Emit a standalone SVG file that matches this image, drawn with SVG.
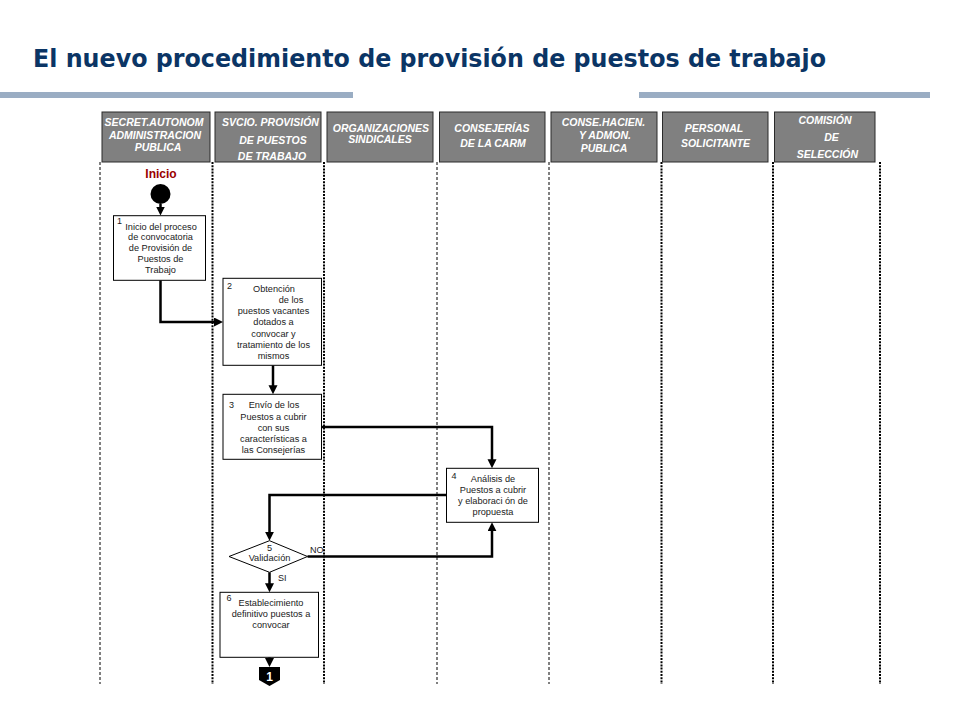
<svg xmlns="http://www.w3.org/2000/svg" width="960" height="720" viewBox="0 0 960 720">
<style>
.title{font-family:"DejaVu Sans","Liberation Sans",sans-serif;font-weight:bold;font-size:24px;fill:#0b3565}
.hdr rect{fill:#808080;stroke:#2a2a2a;stroke-width:1}
.hdr text{font-family:"Liberation Sans",Arial,sans-serif;font-weight:bold;font-style:italic;font-size:10.5px;fill:#ffffff;text-anchor:middle}
.lane-thin{stroke:#000;stroke-width:1;stroke-dasharray:3,2;fill:none}
.lane-thick{stroke:#000;stroke-width:2;stroke-dasharray:2,1.2;fill:none}
.box{fill:#fff;stroke:#000;stroke-width:1}
.t{font-family:"Liberation Sans",Arial,sans-serif;font-size:9.2px;fill:#1a1a1a;text-anchor:middle}
.n{font-family:"Liberation Sans",Arial,sans-serif;font-size:9px;fill:#1a1a1a}
.c{stroke:#000;stroke-width:2.5;fill:none;marker-end:url(#ah)}
</style>
<defs>
<marker id="ah" markerUnits="userSpaceOnUse" markerWidth="10" markerHeight="10" refX="5" refY="4.5" orient="auto">
<path d="M0,0 L9,4.5 L0,9 z" fill="#000"/>
</marker>
</defs>
<rect width="960" height="720" fill="#fff"/>
<text class="title" x="33" y="67" textLength="793" lengthAdjust="spacingAndGlyphs">El nuevo procedimiento de provisión de puestos de trabajo</text>
<rect x="0" y="92" width="353" height="6" fill="#9aadc3"/>
<rect x="639" y="92" width="291" height="6" fill="#9aadc3"/>

<g id="lanes">
<line class="lane-thin" x1="100" y1="162" x2="100" y2="684"/>
<line class="lane-thick" x1="212.5" y1="162" x2="212.5" y2="684"/>
<line class="lane-thick" x1="324" y1="162" x2="324" y2="684"/>
<line class="lane-thin" x1="437" y1="162" x2="437" y2="684"/>
<line class="lane-thin" x1="549" y1="162" x2="549" y2="684"/>
<line class="lane-thick" x1="661.5" y1="162" x2="661.5" y2="684"/>
<line class="lane-thick" x1="773" y1="162" x2="773" y2="684"/>
<line class="lane-thick" x1="880" y1="162" x2="880" y2="684"/>
</g>

<g id="headers" class="hdr">
<g id="h1"><rect x="102" y="112" width="108" height="50"/>
<text x="154" y="126">SECRET.AUTONOM</text><text x="155" y="138.5">ADMINISTRACION</text><text x="158" y="151">PUBLICA</text></g>
<g id="h2"><rect x="215" y="112" width="106" height="50"/>
<text x="270.5" y="126">SVCIO. PROVISIÓN</text><text x="273" y="143.5">DE PUESTOS</text><text x="272" y="160">DE TRABAJO</text></g>
<g id="h3"><rect x="327" y="112" width="106" height="50"/>
<text x="381" y="132">ORGANIZACIONES</text><text x="380" y="143">SINDICALES</text></g>
<g id="h4"><rect x="439.5" y="112" width="105.5" height="50"/>
<text x="492" y="131.5">CONSEJERÍAS</text><text x="493" y="147">DE LA CARM</text></g>
<g id="h5"><rect x="551" y="112" width="106" height="50"/>
<text x="603.5" y="125.5">CONSE.HACIEN.</text><text x="605" y="139">Y ADMON.</text><text x="604" y="151.5">PUBLICA</text></g>
<g id="h6"><rect x="662.5" y="112" width="105.5" height="50"/>
<text x="714" y="131.5">PERSONAL</text><text x="715.5" y="147">SOLICITANTE</text></g>
<g id="h7"><rect x="774.5" y="112" width="100.5" height="50"/>
<text x="825" y="124">COMISIÓN</text><text x="831.5" y="141">DE</text><text x="827.5" y="157.5">SELECCIÓN</text></g>
</g>

<g id="connectors">
<line class="c" x1="160.5" y1="204" x2="160.5" y2="211.5"/>
<polyline class="c" points="160.5,280.3 160.5,322 219,322"/>
<line class="c" x1="273" y1="365.3" x2="273" y2="390.3"/>
<polyline class="c" points="321.5,427 492,427 492,464.3"/>
<polyline class="c" points="446.5,495 269.5,495 269.5,536.7"/>
<polyline class="c" points="307.5,556.5 492,556.5 492,526.3"/>
<line class="c" x1="269.5" y1="572.3" x2="269.5" y2="588.3"/>
<line class="c" x1="269.5" y1="657.3" x2="269.5" y2="663"/>
</g>

<g id="inicio">
<text x="161" y="178" font-family="Liberation Sans, Arial, sans-serif" font-weight="bold" font-size="12" fill="#990000" text-anchor="middle">Inicio</text>
<circle cx="160.5" cy="194" r="10" fill="#000"/>
</g>

<g id="n1">
<rect class="box" x="113.5" y="215.7" width="92" height="64.6"/>
<text class="n" x="117" y="224" font-size="7">1</text>
<text class="t" x="161" y="229.5">Inicio del proceso</text>
<text class="t" x="160.5" y="240">de convocatoria</text>
<text class="t" x="160.5" y="251">de Provisión de</text>
<text class="t" x="160.5" y="262">Puestos de</text>
<text class="t" x="160.5" y="273">Trabajo</text>
</g>

<g id="n2">
<rect class="box" x="223" y="278.3" width="98.5" height="87"/>
<text class="n" x="227" y="289">2</text>
<text class="t" x="274" y="291.5">Obtención</text>
<text class="t" x="291" y="303">de los</text>
<text class="t" x="273.5" y="314">puestos vacantes</text>
<text class="t" x="273.5" y="325">dotados a</text>
<text class="t" x="273.5" y="336.5">convocar y</text>
<text class="t" x="273.5" y="347.5">tratamiento de los</text>
<text class="t" x="273.5" y="358.5">mismos</text>
</g>

<g id="n3">
<rect class="box" x="223" y="394.3" width="98.5" height="65"/>
<text class="n" x="229" y="407.5">3</text>
<text class="t" x="274" y="407.5">Envío de los</text>
<text class="t" x="273.5" y="419.5">Puestos a cubrir</text>
<text class="t" x="273.5" y="430.5">con sus</text>
<text class="t" x="273.5" y="441.5">características a</text>
<text class="t" x="273.5" y="452.5">las Consejerías</text>
</g>

<g id="n4">
<rect class="box" x="446.5" y="468.3" width="92" height="54"/>
<text class="n" x="451.5" y="479">4</text>
<text class="t" x="493" y="481.5">Análisis de</text>
<text class="t" x="493" y="492.5">Puestos a cubrir</text>
<text class="t" x="493" y="503.5">y elaboraci ón de</text>
<text class="t" x="493" y="514.5">propuesta</text>
</g>

<g id="n5">
<polygon points="269.5,540.7 307.5,556.5 269.5,572.3 229,556.5" fill="#fff" stroke="#000" stroke-width="1"/>
<text class="t" x="269.5" y="551">5</text>
<text class="t" x="269.5" y="560.5">Validación</text>
<text class="n" x="310" y="553">NO</text>
<text class="n" x="278" y="581">SI</text>
</g>

<g id="n6">
<rect class="box" x="220" y="592.3" width="98.5" height="65"/>
<text class="n" x="226.5" y="601" font-size="8">6</text>
<text class="t" x="271" y="605.5">Establecimiento</text>
<text class="t" x="271" y="616.5">definitivo  puestos a</text>
<text class="t" x="271" y="627.5">convocar</text>
</g>

<g id="off1">
<polygon points="259,667 280,667 280,680 269.5,686 259,680" fill="#000"/>
<text x="269.5" y="681" font-family="Liberation Sans, Arial, sans-serif" font-weight="bold" font-size="12" fill="#fff" text-anchor="middle">1</text>
</g>
</svg>
